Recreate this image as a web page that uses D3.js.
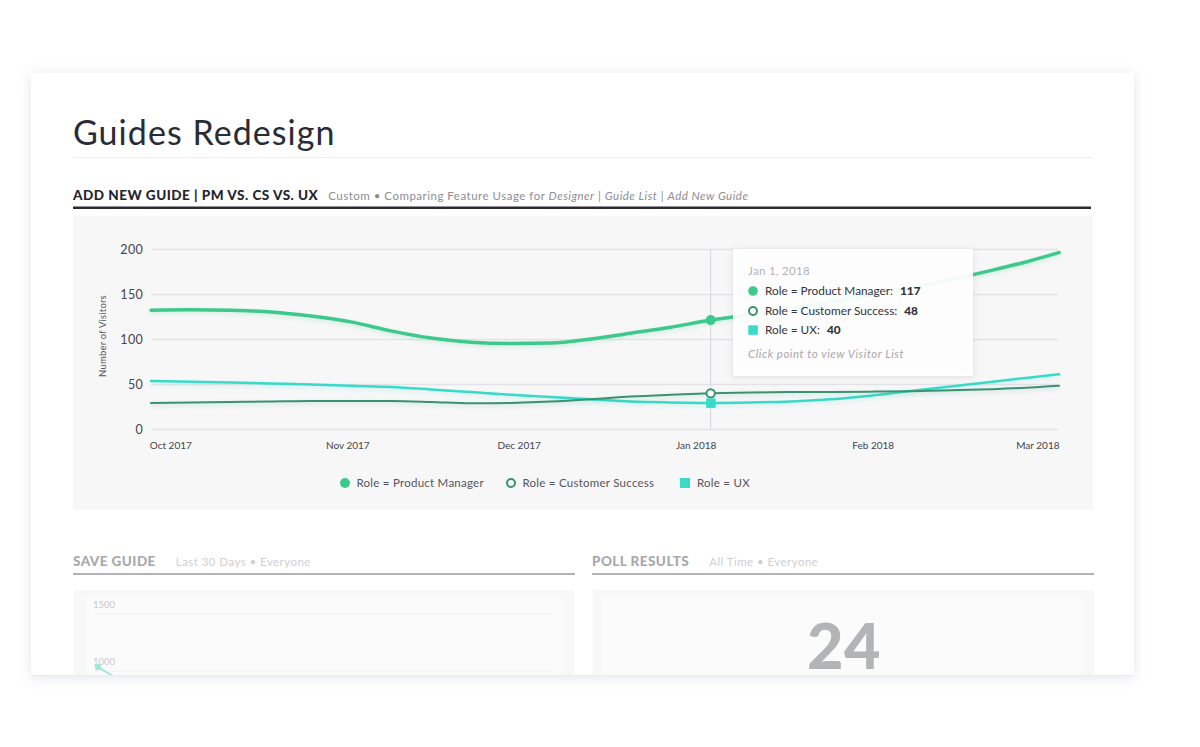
<!DOCTYPE html>
<html>
<head>
<meta charset="utf-8">
<script src="https://cdn.jsdelivr.net/npm/d3@7"></script>
<style>
  html, body { margin: 0; padding: 0; background: #ffffff; }
  svg { display: block; }
  text { font-family: Lato, "Open Sans", sans-serif; }
</style>
</head>
<body>
<svg id="chart" width="1200" height="747"></svg>
<script>
// ---------------- DATA ----------------
const weekDates = ["2017-09-25","2017-10-02","2017-10-09","2017-10-16","2017-10-23","2017-10-30",
  "2017-11-06","2017-11-13","2017-11-20","2017-11-27","2017-12-04","2017-12-11","2017-12-18",
  "2017-12-25","2018-01-01","2018-01-08","2018-01-15","2018-01-22","2018-01-29","2018-02-05",
  "2018-02-12","2018-02-19","2018-02-26","2018-03-03"];
const pmValues = [132,132.5,132,130,125.5,119,109,101,96.5,95,95.5,100,106.5,113,121,127,134,141,149,157,166,176,187,196];
const csValues = [29,29.5,30,30.5,31,31,31,30,28.5,29,30.5,33,36,38,39.6,40.5,41,41.2,41.5,42,43,44.3,46,48];
const uxValues = [53.3,52.5,51.7,50.5,49.5,48,46.7,44,41,38,35.5,33,30.5,29.5,29,29.5,30.5,33,37,42.2,47.2,52.3,57.3,60.8];
const seriesNames = ["Role = Product Manager", "Role = Customer Success", "Role = UX"];
const yTicks = [0, 50, 100, 150, 200];
const monthTicks = ["2017-10-01","2017-11-01","2017-12-01","2018-01-01","2018-02-01","2018-03-01"];
const monthLabels = ["Oct 2017","Nov 2017","Dec 2017","Jan 2018","Feb 2018","Mar 2018"];
const hoverDate = "2018-01-01";
const tooltipTitle = "Jan 1, 2018";
const tooltipValues = [117, 48, 40];
const pollValue = 24;
const saveTicks = [1000, 1500];

// ---------------- SETUP ----------------
const parse = d3.utcParse("%Y-%m-%d");
const svg = d3.select("#chart");
const defs = svg.append("defs");

const cardF = defs.append("filter").attr("id","cardShadow").attr("x","-10%").attr("y","-10%").attr("width","120%").attr("height","130%");
cardF.append("feDropShadow").attr("dx",0).attr("dy",2).attr("stdDeviation",6).attr("flood-color","#8a8fa8").attr("flood-opacity",0.25);
const tipF = defs.append("filter").attr("id","tipShadow").attr("x","-20%").attr("y","-20%").attr("width","140%").attr("height","150%");
tipF.append("feDropShadow").attr("dx",0).attr("dy",1).attr("stdDeviation",3).attr("flood-color","#606070").attr("flood-opacity",0.18);

defs.append("clipPath").attr("id","cardClip").append("rect")
  .attr("x",31).attr("y",73).attr("width",1103).attr("height",602);

svg.append("rect").attr("x",31).attr("y",73).attr("width",1103).attr("height",602)
  .attr("fill","#ffffff").attr("filter","url(#cardShadow)");

const card = svg.append("g").attr("clip-path","url(#cardClip)");

// Title
card.append("text").attr("x",73).attr("y",145).attr("font-size",34).attr("font-weight",400)
  .attr("letter-spacing",1.05).attr("fill","#2a2c35").text("Guides Redesign");
card.append("line").attr("x1",73).attr("x2",1092).attr("y1",157.5).attr("y2",157.5)
  .attr("stroke","#eeeef0").attr("stroke-width",1);

// Section header
const hdr = card.append("text").attr("x",73).attr("y",199.5);
hdr.append("tspan").attr("font-size",13.5).attr("font-weight",900).attr("letter-spacing",0.5).attr("fill","#24252d").text("ADD NEW GUIDE  |  PM VS. CS VS. UX");
const subParts = [["Custom  •  Comparing Feature Usage for ", false], ["Designer", true], [" | ", false], ["Guide List", true], [" | ", false], ["Add New Guide", true]];
subParts.forEach(([t, it], i) => {
  hdr.append("tspan").attr("dx", i === 0 ? 10 : null).attr("font-size",11.5).attr("letter-spacing",0.5)
    .attr("fill","#8d8d95").attr("font-style", it ? "italic" : "normal").text(t);
});
card.append("rect").attr("x",73).attr("y",206.5).attr("width",1018).attr("height",2.5).attr("fill","#2a2b33");

// Chart panel
card.append("rect").attr("x",73).attr("y",216).attr("width",1020).attr("height",294).attr("fill","#f7f7f8");

const x = d3.scaleUtc().domain([parse(weekDates[0]), parse(weekDates[weekDates.length-1])]).range([151, 1059]);
const y = d3.scaleLinear().domain([0, 200]).range([429, 249]);

// Grid + y axis
const yAxis = d3.axisLeft(y).tickValues(yTicks).tickSize(-(1058 - 151)).tickPadding(8);
const gy = card.append("g").attr("transform","translate(151,0)").call(yAxis);
gy.select(".domain").remove();
gy.selectAll(".tick line").attr("stroke","#e3e3e8").attr("stroke-width",1.5);
gy.selectAll(".tick text").attr("font-size",12.5).attr("fill","#45454d").attr("letter-spacing",0.3)
  .attr("font-family","Lato, 'Open Sans', sans-serif");

// y axis title
card.append("text").attr("transform","translate(105.5,336) rotate(-90)").attr("text-anchor","middle")
  .attr("font-size",9.5).attr("letter-spacing",0.2).attr("fill","#55555d").text("Number of Visitors");

// x axis
const monthIndex = new Map(monthTicks.map((d,i)=>[+parse(d), monthLabels[i]]));
const xAxis = d3.axisBottom(x).tickValues(monthTicks.map(parse)).tickSize(0).tickPadding(0)
  .tickFormat(d => monthIndex.get(+d));
const gx = card.append("g").attr("transform","translate(0,442)").call(xAxis);
gx.select(".domain").remove();
gx.selectAll(".tick text").attr("font-size",10).attr("fill","#45454d").attr("dy","0.71em").attr("dx",-15)
  .attr("font-family","Lato, 'Open Sans', sans-serif");
gx.selectAll(".tick").filter((d,i,n)=>i===n.length-1).select("text")
  .attr("text-anchor","end").attr("dx",0).attr("x", x.range()[1] - x(parse(monthTicks[monthTicks.length-1])));

// Crosshair
const hx = x(parse(hoverDate));
card.append("line").attr("x1",hx).attr("x2",hx).attr("y1",249).attr("y2",429)
  .attr("stroke","#d6d6dc").attr("stroke-width",1);

// Lines
const colors = ["#3cc98c", "#3a9270", "#38dac8"];
const widths = [3.5, 2, 2.5];
const series = [pmValues, csValues, uxValues];
const line = d3.line().x((d,i)=>x(parse(weekDates[i]))).y(d=>y(d)).curve(d3.curveMonotoneX);

series.forEach((vals, k) => {
  const f = defs.append("filter").attr("id","ls"+k).attr("x","-5%").attr("y","-50%").attr("width","110%").attr("height","200%");
  f.append("feDropShadow").attr("dx",0).attr("dy",2).attr("stdDeviation",2).attr("flood-color",colors[k]).attr("flood-opacity",0.22);
});
[2,1,0].forEach(k => {
  card.append("path").datum(series[k]).attr("d",line).attr("fill","none")
    .attr("stroke",colors[k]).attr("stroke-width",widths[k]).attr("stroke-linecap","round")
    .attr("filter","url(#ls"+k+")");
});

// Hover markers
const hi = weekDates.indexOf(hoverDate);
card.append("circle").attr("cx",hx).attr("cy",y(pmValues[hi])).attr("r",5).attr("fill",colors[0]);
card.append("circle").attr("cx",hx).attr("cy",y(csValues[hi])).attr("r",4.2).attr("fill","#ffffff")
  .attr("stroke",colors[1]).attr("stroke-width",2);
card.append("rect").attr("x",hx-4.5).attr("y",y(uxValues[hi])-4.5).attr("width",9.5).attr("height",9.5).attr("fill",colors[2]);

// Legend
const legendX = [345, 511, 685];
const ly = 483;
const lg = card.append("g");
lg.append("circle").attr("cx",legendX[0]).attr("cy",ly).attr("r",5).attr("fill",colors[0]);
lg.append("circle").attr("cx",legendX[1]).attr("cy",ly).attr("r",4).attr("fill","#f7f7f8").attr("stroke",colors[1]).attr("stroke-width",2);
lg.append("rect").attr("x",legendX[2]-5).attr("y",ly-5).attr("width",10).attr("height",10).attr("fill",colors[2]);
seriesNames.forEach((n,i)=>{
  lg.append("text").attr("x",legendX[i]+(i===2?12:11.5)).attr("y",ly).attr("dy","0.35em")
    .attr("font-size",11.5).attr("letter-spacing",0.25).attr("fill","#55555d").text(n);
});

// Tooltip
const tip = card.append("g").attr("transform","translate(733,249)");
tip.append("rect").attr("width",240).attr("height",127).attr("fill","#ffffff").attr("fill-opacity",0.93)
  .attr("filter","url(#tipShadow)");
tip.append("text").attr("x",15).attr("y",25.5).attr("font-size",11.5).attr("letter-spacing",0.3).attr("fill","#b3b3b9").text(tooltipTitle);
const rowY = [42, 62, 81];
tip.append("circle").attr("cx",20).attr("cy",rowY[0]).attr("r",4.8).attr("fill",colors[0]);
tip.append("circle").attr("cx",20).attr("cy",rowY[1]).attr("r",4).attr("fill","#fff").attr("stroke",colors[1]).attr("stroke-width",2);
tip.append("rect").attr("x",15.3).attr("y",rowY[2]-4.7).attr("width",9.5).attr("height",9.5).attr("fill",colors[2]);
seriesNames.forEach((n,i)=>{
  const t = tip.append("text").attr("x",32).attr("y",rowY[i]).attr("dy","0.35em").attr("font-size",11.8).attr("fill","#33343b");
  t.append("tspan").text(n + ":");
  t.append("tspan").attr("dx",7).attr("font-weight",900).text(tooltipValues[i]);
});
tip.append("text").attr("x",15).attr("y",108.5).attr("font-size",11.4).attr("font-style","italic").attr("letter-spacing",0.55)
  .attr("fill","#a7a7ae").text("Click point to view Visitor List");

// ---------- Bottom panels ----------
function panelHeader(x0, x1, title, sub, subDx) {
  const t = card.append("text").attr("x",x0).attr("y",566);
  t.append("tspan").attr("font-size",13.5).attr("font-weight",900).attr("letter-spacing",0.45).attr("fill","#a8a8ad").text(title);
  t.append("tspan").attr("dx",subDx).attr("font-size",11.5).attr("letter-spacing",0.45).attr("fill","#cfcfd4").text(sub);
  card.append("rect").attr("x",x0).attr("y",573).attr("width",x1-x0).attr("height",2).attr("fill","#b4b4b8");
}
panelHeader(73, 575, "SAVE GUIDE", "Last 30 Days • Everyone", 20);
panelHeader(592, 1094, "POLL RESULTS", "All Time • Everyone", 20);

// Save guide mini chart
card.append("rect").attr("x",74).attr("y",590).attr("width",500).attr("height",100).attr("fill","#f8f8f9");
card.append("rect").attr("x",86).attr("y",596).attr("width",478).attr("height",100).attr("fill","#fbfbfc");
const ys = d3.scaleLinear().domain([1000,1500]).range([671,614]);
saveTicks.forEach(v=>{
  card.append("line").attr("x1",94).attr("x2",552).attr("y1",ys(v)).attr("y2",ys(v)).attr("stroke","#f1f1f3");
  card.append("text").attr("x",93).attr("y",ys(v)-6).attr("font-size",9.5).attr("fill","#c9c9ce").text(v);
});
card.append("line").attr("x1",98).attr("y1",667).attr("x2",116).attr("y2",678).attr("stroke","#9ee9d6").attr("stroke-width",2);
card.append("circle").attr("cx",98).attr("cy",667).attr("r",3.2).attr("fill","#9ee9d6");

// Poll results
card.append("rect").attr("x",593).attr("y",590).attr("width",501).attr("height",100).attr("fill","#f8f8f9");
card.append("rect").attr("x",602).attr("y",596).attr("width",482).attr("height",100).attr("fill","#fbfbfc");
card.append("text").attr("x",844).attr("y",669).attr("text-anchor","middle").attr("font-size",63)
  .attr("font-weight",900).attr("letter-spacing",0.5).attr("fill","#b3b4b8").text(pollValue);

// shadow band under card
svg.append("rect").attr("x",31).attr("y",675).attr("width",1103).attr("height",1).attr("fill","#ebebef");
</script>
</body>
</html>
